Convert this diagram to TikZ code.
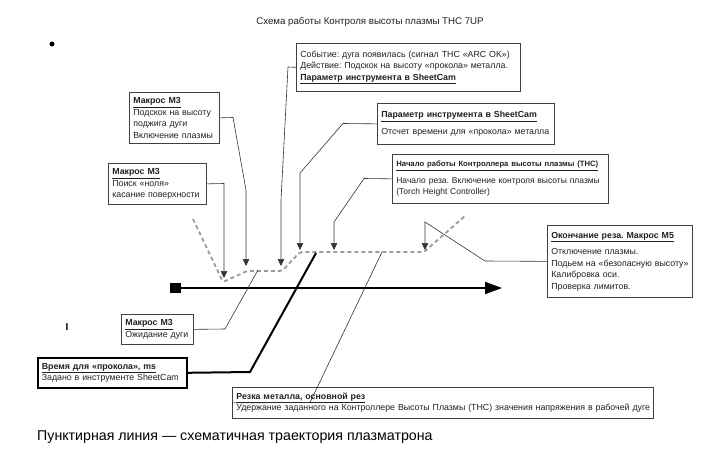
\documentclass[tikz,border=0pt]{standalone}
\usepackage{fontspec}
\setmainfont{Liberation Sans}
\usetikzlibrary{arrows.meta}
\definecolor{bordc}{HTML}{404040}
\definecolor{trajc}{HTML}{9A9A9A}
\definecolor{txtc}{HTML}{202020}
\frenchspacing
\begin{document}
\begin{tikzpicture}[x=1pt,y=-1pt,
  box/.style={draw=bordc, line width=0.7pt, anchor=north west, align=left,
    inner xsep=4pt, inner ysep=2pt, font=\fontsize{8.8}{11.5}\selectfont, text=txtc},
  thickbox/.style={box, draw=black, line width=1.6pt},
  conn/.style={draw=black!80, line width=0.6pt},
  arr/.style={conn, -{Triangle[length=7pt,width=6.5pt]}},
  traj/.style={draw=trajc, line width=1.8pt, dash pattern=on 4pt off 3pt, rounded corners=2pt}]
\useasboundingbox (0,0) rectangle (722,471);

% title and stray marks
\node[font=\fontsize{9.7}{11}\selectfont, text=txtc] (title) at (370,22) {Схема работы Контроля высоты плазмы THC 7UP};
\node[circle, fill=black, inner sep=0pt, minimum size=5pt] (bul) at (52,44) {};
\node[font=\bfseries\fontsize{10}{12}\selectfont] (cur) at (67,327) {I};

% boxes
\node[box, minimum width=224pt, minimum height=48pt, text width=216pt] (b1) at (296,43)
 {\mbox{Событие: дуга появилась (сигнал THC «ARC OK»)}\\
  \mbox{Действие: Подскок на высоту «прокола» металла.}\\
  \underline{\textbf{Параметр инструмента в SheetCam}}};
\node[box, minimum width=98pt, minimum height=41pt, text width=90pt] (b2) at (108,163)
 {\underline{\textbf{Макрос М3}}\\ Поиск «ноля»\\ \mbox{касание поверхности}};
\node[box, minimum width=90pt, minimum height=51pt, text width=82pt] (b3) at (129,92)
 {\underline{\textbf{Макрос М3}}\\ \mbox{Подскок на высоту}\\ поджига дуги\\ \mbox{Включение плазмы}};
\node[box, minimum width=177pt, minimum height=41pt, text width=169pt] (b4) at (377,103)
 {\underline{\textbf{Параметр инструмента в SheetCam}}\\[5pt] \mbox{Отсчет времени для «прокола» металла}};
\node[box, minimum width=216pt, minimum height=49pt, text width=208pt, font=\fontsize{8.5}{11.5}\selectfont] (b5) at (392,154)
 {\underline{\textbf{\fontsize{7.7}{11.5}\selectfont\mbox{Начало работы Контроллера высоты плазмы (THC)}}}\\[5pt]
  \mbox{Начало реза. Включение контроля высоты плазмы}\\ (Torch Height Controller)};
\node[box, minimum width=145pt, minimum height=72pt, text width=137pt] (b6) at (547,225)
 {\underline{\textbf{Окончание реза. Макрос М5}}\\[5pt] Отключение плазмы.\\
  \mbox{Подьем на «безопасную высоту»}\\ Калибровка оси.\\ Проверка лимитов.};
\node[thickbox, minimum width=149pt, minimum height=30pt, text width=141pt] (b7) at (37,357)
 {\underline{\textbf{Время для «прокола», ms}}\\ \mbox{Задано в инструменте SheetCam}};
\node[box, minimum width=72pt, minimum height=30pt, text width=64pt] (b8) at (121,314)
 {\underline{\textbf{Макрос М3}}\\ \mbox{Ожидание дуги}};
\node[box, minimum width=421pt, minimum height=31pt, text width=413pt] (b9) at (232,387)
 {\underline{\textbf{Резка металла, основной рез}}\\ \mbox{Удержание заданного на Контроллере Высоты Плазмы (THC) значения напряжения в рабочей дуге}};

% trajectory
\coordinate (p0) at (193,219);
\coordinate (p1) at (223,282);
\coordinate (p2) at (247,271);
\coordinate (p3) at (282,271);
\coordinate (p4) at (300,252);
\coordinate (p5) at (424,252);
\coordinate (p6) at (465,216);
\draw[traj] (p0) -- (p1) -- (p2) -- (p3) -- (p4) -- (p5) -- (p6);

% main axis
\node[fill=black, minimum width=11pt, minimum height=10pt, inner sep=0pt] (sq) at (175.5,288) {};
\coordinate (axend) at (502,288);
\draw[line width=1.8pt, -{Triangle[length=17pt,width=12pt]}] (sq.east) -- (axend);

% arrow targets
\coordinate (t1) at (224,278);
\coordinate (t2) at (246,266);
\coordinate (t3) at (281,266);
\coordinate (t4) at (300,250);
\coordinate (t5) at (334,250);
\coordinate (t6) at (425,250);
\coordinate (m8) at (258,270);
\coordinate (m9) at (382,252);
\coordinate (cut) at (316,253);

% connectors
\draw[arr] (b2.east) -- (224,183.5) -- (t1);
\draw[arr] (b3.east) -- (233,117.5) -- (246,190) -- (t2);
\draw[arr] (b1.west) -- (288,67) -- (281,200) -- (t3);
\draw[arr] (b4.west) -- (343,123.5) -- (300,173) -- (t4);
\draw[arr] (b5.west) -- (364,178.5) -- (334,222) -- (t5);
\draw[arr] (b6.west) -- (485,261) -- (425,222) -- (t6);
\draw[conn] (b8.east) -- (225,329) -- (m8);
\draw[conn] (m9) -- (310,402.5) -- (b9.west);
\draw[line width=2pt] (cut) -- (250,372) -- (b7.east);

% caption
\node[anchor=west, inner sep=0pt, font=\fontsize{14.2}{16}\selectfont] (cap) at (37,437)
 {Пунктирная линия — схематичная траектория плазматрона};
\end{tikzpicture}
\end{document}
